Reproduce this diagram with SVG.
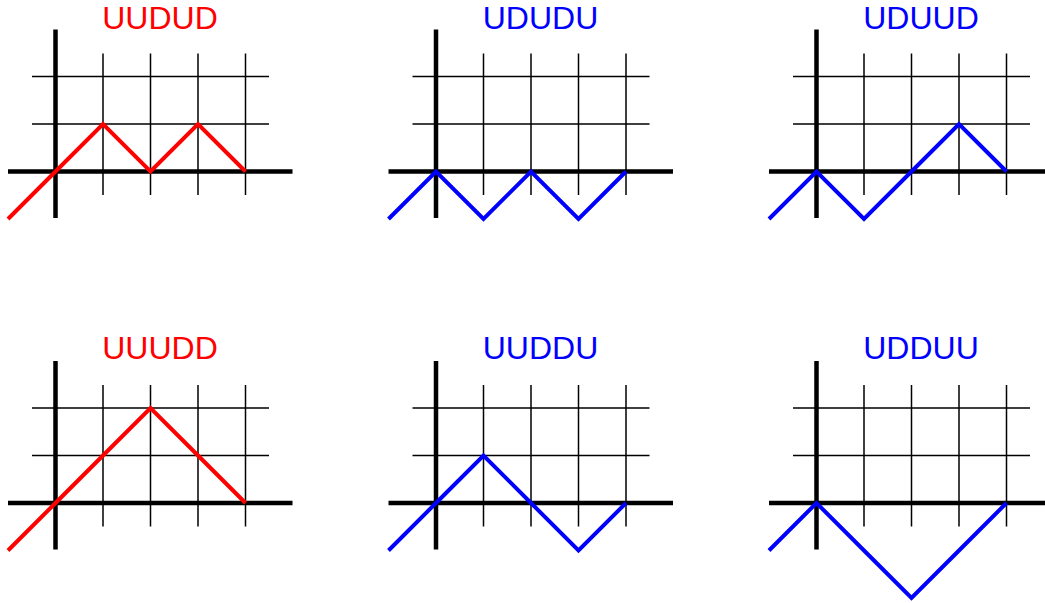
<svg xmlns="http://www.w3.org/2000/svg" width="1045" height="603" viewBox="0 0 1045 603">
<style>
.grid{stroke:#000;stroke-width:1.5;fill:none}
.axis{stroke:#000;stroke-width:4.5;fill:none}
.p{stroke-width:4;fill:none;stroke-linejoin:miter;stroke-linecap:butt}
.red{stroke:#ff0000}
.blue{stroke:#0000ff}
.t{font-family:"Liberation Sans",Arial,sans-serif;font-size:32px;text-anchor:middle}
</style>
<defs>
<g id="frame">
<path class="grid" d="M47.5,-118V23.5M95,-118V23.5M142.5,-118V23.5M190,-118V23.5M-23.5,-47.5H213.5M-23.5,-95H213.5"/>
<path class="axis" d="M0,-142V46.5M-47.5,0H237"/>
</g>
</defs>
<g id="panel-UUDUD" transform="translate(55.5,171.5)">
<use href="#frame"/>
<polyline class="p red" points="-47.5,47.5 0,0 47.5,-47.5 95,0 142.5,-47.5 190,0"/>
<text class="t" x="104.5" y="-143" fill="#ff0000">UUDUD</text>
</g>
<g id="panel-UDUDU" transform="translate(436,171.5)">
<use href="#frame"/>
<polyline class="p blue" points="-47.5,47.5 0,0 47.5,47.5 95,0 142.5,47.5 190,0"/>
<text class="t" x="104.5" y="-143" fill="#0000ff">UDUDU</text>
</g>
<g id="panel-UDUUD" transform="translate(816.5,171.5)">
<use href="#frame"/>
<polyline class="p blue" points="-47.5,47.5 0,0 47.5,47.5 95,0 142.5,-47.5 190,0"/>
<text class="t" x="104.5" y="-143" fill="#0000ff">UDUUD</text>
</g>
<g id="panel-UUUDD" transform="translate(55.5,503)">
<use href="#frame"/>
<polyline class="p red" points="-47.5,47.5 0,0 47.5,-47.5 95,-95 142.5,-47.5 190,0"/>
<text class="t" x="104.5" y="-144.5" fill="#ff0000">UUUDD</text>
</g>
<g id="panel-UUDDU" transform="translate(436,503)">
<use href="#frame"/>
<polyline class="p blue" points="-47.5,47.5 0,0 47.5,-47.5 95,0 142.5,47.5 190,0"/>
<text class="t" x="104.5" y="-144.5" fill="#0000ff">UUDDU</text>
</g>
<g id="panel-UDDUU" transform="translate(816.5,503)">
<use href="#frame"/>
<polyline class="p blue" points="-47.5,47.5 0,0 47.5,47.5 95,95 142.5,47.5 190,0"/>
<text class="t" x="104.5" y="-144.5" fill="#0000ff">UDDUU</text>
</g>
</svg>
